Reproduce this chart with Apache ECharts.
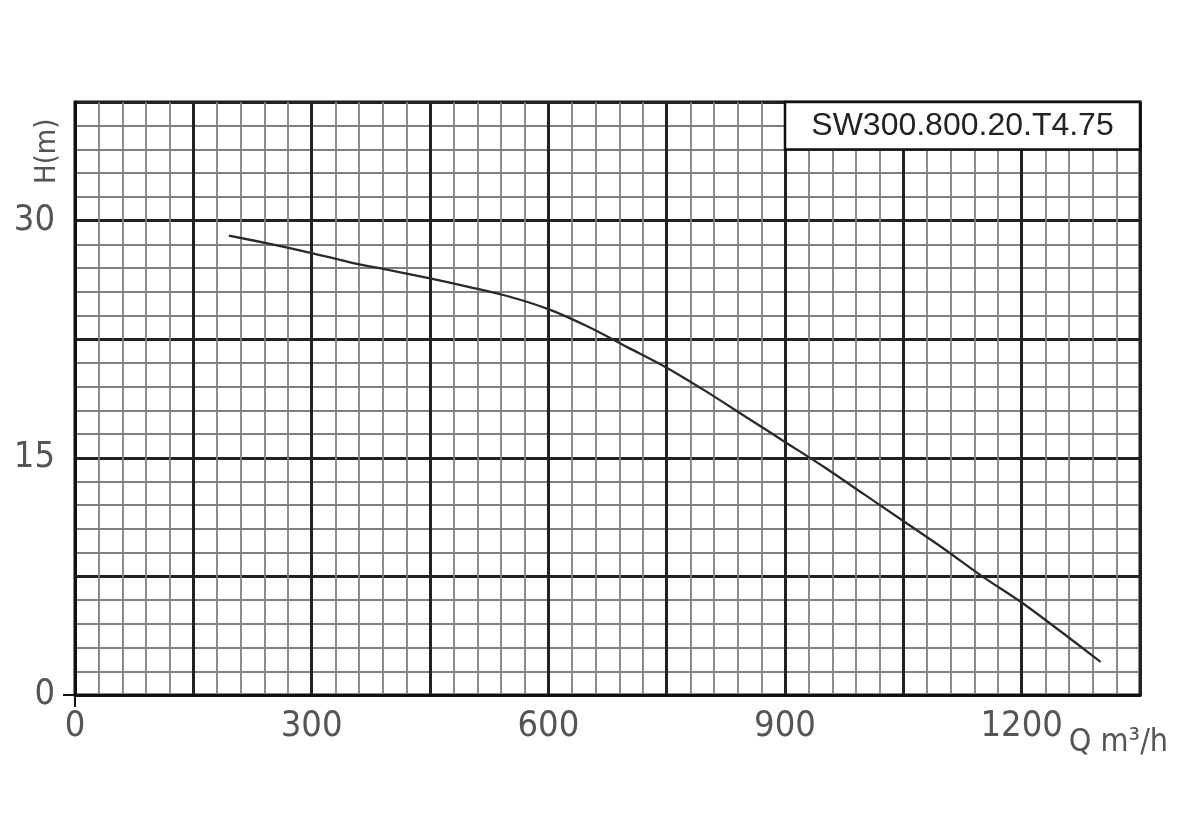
<!DOCTYPE html>
<html>
<head>
<meta charset="utf-8">
<script src="https://cdn.jsdelivr.net/npm/echarts@6/dist/echarts.min.js"></script>
<style>html,body{margin:0;padding:0;background:#fff}#c{width:1200px;height:832px}</style>
</head>
<body>
<div id="c"></div>
<script>
// Flow Q (m³/h) and head H (m)
const flowQ = [195, 250, 300, 350, 400, 450, 500, 550, 600, 650, 700, 750, 800, 850, 900, 950, 1000, 1050, 1100, 1150, 1200, 1250, 1300];
const headH = [29.05, 28.5, 27.95, 27.35, 26.85, 26.35, 25.8, 25.2, 24.4, 23.3, 22.0, 20.7, 19.2, 17.6, 16.0, 14.4, 12.7, 11.0, 9.3, 7.5, 5.85, 4.0, 2.1];
const xTickLabels = [0, 300, 600, 900, 1200];
const yTickLabels = [0, 15, 30];
const originTicks = [0];
const modelName = 'SW300.800.20.T4.75';
const modelBox = [[900, 34.5], [1350, 37.5]];

const narrow = '"Liberation Sans Narrow", "DejaVu Sans Condensed", "Arial Narrow", sans-serif';
const labelStyle = {fontFamily: narrow, fontSize: 36, color: '#555', formatter: v => String(v)};
const X = {min: 0, max: 1350, interval: 150};
const Y = {min: 0, max: 37.5, interval: 7.5};

const chart = echarts.init(document.getElementById('c'), null, {renderer: 'canvas'});
chart.setOption({
  animation: false,
  backgroundColor: '#fff',
  grid: {left: 75, top: 102, right: 60, bottom: 137, show: true, borderColor: '#111', borderWidth: 3, backgroundColor: 'transparent'},
  xAxis: [{
    type: 'value', ...X,
    name: 'Q m³/h', nameLocation: 'end', nameGap: -87,
    nameTextStyle: {fontFamily: narrow, fontSize: 32, color: '#555', verticalAlign: 'top', padding: [32, 0, 0, 0]},
    axisLine: {show: true, lineStyle: {color: '#111', width: 3}},
    axisTick: {show: false},
    axisLabel: {customValues: xTickLabels, margin: 14, ...labelStyle},
    splitLine: {show: true, lineStyle: {color: '#222', width: 3}},
    minorTick: {show: false, splitNumber: 5},
    minorSplitLine: {show: true, lineStyle: {color: '#808080', width: 1.8}}
  }, {
    type: 'value', ...X, position: 'bottom',
    axisLine: {show: false},
    axisTick: {show: true, customValues: originTicks, length: 12, lineStyle: {color: '#111', width: 2}},
    axisLabel: {show: false},
    splitLine: {show: false}
  }],
  yAxis: [{
    type: 'value', ...Y,
    name: 'H(m)', nameLocation: 'end', nameGap: -82, nameRotate: 90,
    nameTextStyle: {fontFamily: narrow, fontSize: 29, color: '#555', align: 'left', verticalAlign: 'bottom', padding: [0, 0, 13, 0]},
    axisLine: {show: true, lineStyle: {color: '#111', width: 3}},
    axisTick: {show: false},
    axisLabel: {customValues: yTickLabels, margin: 20, ...labelStyle},
    splitLine: {show: true, lineStyle: {color: '#222', width: 3}},
    minorTick: {show: false, splitNumber: 5},
    minorSplitLine: {show: true, lineStyle: {color: '#808080', width: 1.8}}
  }, {
    type: 'value', ...Y, position: 'left',
    axisLine: {show: false},
    axisTick: {show: true, customValues: originTicks, length: 12, lineStyle: {color: '#111', width: 2}},
    axisLabel: {show: false},
    splitLine: {show: false}
  }],
  series: [{
    type: 'line',
    data: flowQ.map((q, i) => [q, headH[i]]),
    smooth: 0.3,
    showSymbol: false,
    lineStyle: {color: '#2a2a2a', width: 2.3},
    markArea: {
      silent: true,
      itemStyle: {color: '#fff', borderColor: '#111', borderWidth: 2.5, opacity: 1},
      label: {show: true, position: 'inside', fontFamily: '"Liberation Sans", Arial, sans-serif', fontSize: 32, color: '#222'},
      data: [[{name: modelName, coord: modelBox[0]}, {coord: modelBox[1]}]]
    }
  }]
});
</script>
</body>
</html>
